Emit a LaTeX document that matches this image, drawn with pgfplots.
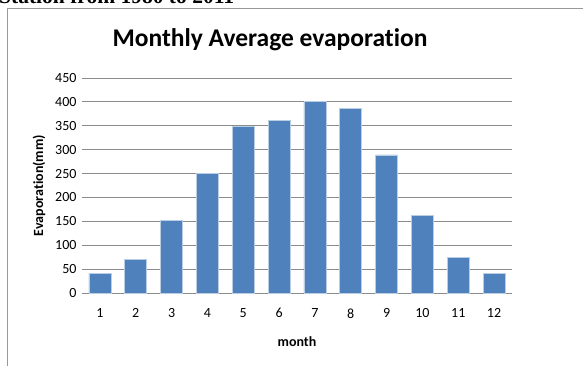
\documentclass[border=0pt]{standalone}
\usepackage{fontspec}
\setmainfont{Carlito}[Ligatures={TeX,NoCommon}]
\newfontfamily\serif{Liberation Serif}
\usepackage{pgfplots}
\pgfplotsset{compat=1.18}
\definecolor{barblue}{HTML}{4F81BD}
\definecolor{baredge}{HTML}{B9CDE5}
\definecolor{gridgray}{HTML}{8C8C8C}
\begin{document}
\begin{tikzpicture}[x=1pt,y=1pt]
\useasboundingbox (0,0) rectangle (583,366);
\clip (0,0) rectangle (583,366);
\node[anchor=base west, inner sep=0, font=\serif\bfseries\fontsize{21.5}{21.5}\selectfont] at (-1,362) {Station from 1980 to 2011};
\draw[gray!80, line width=0.8pt] (7,-5)--(7,358)--(590,358);
\node[font=\bfseries\fontsize{25.5}{25.5}\selectfont] at (270,326) {Monthly Average evaporation};
\begin{axis}[at={(82pt,73pt)}, anchor=south west, scale only axis,
  width=430pt, height=215pt,
  xmin=0.5, xmax=12.5, ymin=0, ymax=450,
  ytick={0,50,...,450}, xtick={1,...,12},
  major tick length=0pt,
  axis line style={draw=none},
  ymajorgrids, grid style={gridgray, line width=0.8pt},
  /pgf/number format/assume math mode=true,
  tick label style={font=\fontsize{14}{14}\selectfont},
  xticklabel style={yshift=-12pt},
  yticklabel style={xshift=-2pt},
  xlabel={month}, ylabel={Evaporation(mm)},
  every axis x label/.style={at={(axis description cs:0.5,-0.2265)}, anchor=center, font=\bfseries\fontsize{14}{14}\selectfont},
  every axis y label/.style={at={(axis description cs:-0.1,0.5)}, anchor=center, rotate=90, font=\bfseries\fontsize{14}{14}\selectfont},
  ybar, bar width=22pt,
  clip=false]
\addplot[fill=barblue, draw=baredge, line width=0.6pt] coordinates {
(1,41) (2,71) (3,152) (4,250) (5,349) (6,362) (7,401) (8,386) (9,289) (10,162) (11,75) (12,41)};
\end{axis}
\end{tikzpicture}
\end{document}
